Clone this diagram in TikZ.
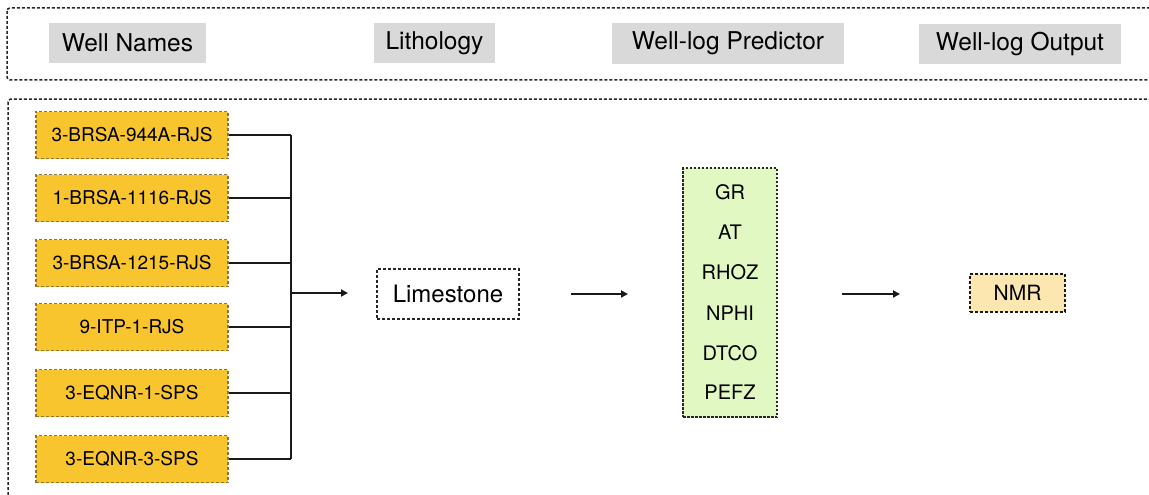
\documentclass[tikz,border=0pt]{standalone}
\usepackage{fontspec}
\setmainfont{TeX Gyre Heros}
\usetikzlibrary{arrows.meta}

\definecolor{hdrgrey}{HTML}{D9D9D9}
\definecolor{wellfill}{HTML}{F8C52F}
\definecolor{welledge}{HTML}{8E7634}
\definecolor{logfill}{HTML}{E2F8C2}
\definecolor{outfill}{HTML}{FCE7B0}

\tikzset{
  fine dash/.style={dash pattern=on 3pt off 2pt},
  panel/.style={draw=black!85, line width=1.5pt, fine dash, rounded corners=3pt},
  header/.style={fill=hdrgrey, inner sep=0pt, font=\fontsize{24.5}{28}\selectfont, text=black},
  wellbox/.style={fill=wellfill, draw=welledge, line width=1.4pt, fine dash,
    minimum width=192pt, minimum height=47pt, inner sep=0pt,
    font=\fontsize{19}{22}\selectfont},
  lithbox/.style={draw=black!85, line width=1.5pt, fine dash, fill=white,
    minimum width=142pt, minimum height=50pt, inner sep=0pt,
    font=\fontsize{24}{28}\selectfont},
  logbox/.style={fill=logfill, draw=black!85, line width=1.5pt, dash pattern=on 2.5pt off 1.5pt,
    minimum width=94pt, minimum height=249pt, inner sep=0pt},
  logname/.style={inner sep=0pt, font=\fontsize{20}{23}\selectfont},
  outbox/.style={fill=outfill, draw=black!90, line width=2pt, dash pattern=on 3pt off 2pt,
    minimum width=95pt, minimum height=38pt, inner sep=0pt,
    font=\fontsize{21}{24}\selectfont},
  link/.style={draw=black!90, line width=2pt},
  flow/.style={link, -{Triangle[length=7pt,width=7pt]}}
}

\begin{document}
\begin{tikzpicture}[x=1pt, y=-1pt]
\useasboundingbox (0,0) rectangle (1149,495);
\fill[white] (0,0) rectangle (1149,495);
\clip (0,0) rectangle (1149,495);

% framing panels (they run past the right and bottom edges)
\draw[panel] (7,8) rectangle (1165,80);
\draw[panel] (8,99) rectangle (1165,515);

% column headers
\node[header, minimum width=157pt, minimum height=40pt] (hwell) at (127.5,43) {Well Names};
\node[header, minimum width=121pt, minimum height=40pt] (hlith) at (434.5,43) {Lithology};
\node[header, minimum width=232pt, minimum height=41pt] (hpred) at (728,43.5) {Well-log Predictor};
\node[header, minimum width=202pt, minimum height=40pt] (hout) at (1020,44) {Well-log Output};

% wells
\node[wellbox] (w1) at (132,135) {3-BRSA-944A-RJS};
\node[wellbox] (w2) at (132,198) {1-BRSA-1116-RJS};
\node[wellbox] (w3) at (132,263) {3-BRSA-1215-RJS};
\node[wellbox] (w4) at (132,327) {9-ITP-1-RJS};
\node[wellbox] (w5) at (132,393) {3-EQNR-1-SPS};
\node[wellbox] (w6) at (132,459) {3-EQNR-3-SPS};

% collecting bus
\coordinate (bus) at (291,0);
\foreach \w in {w1,w2,w3,w4,w5,w6}
  \draw[link] (\w.east) -- (\w.east -| bus);
\draw[link] (w1.east -| bus) -- (w6.east -| bus);

% lithology
\node[lithbox] (lime) at (448,294) {Limestone};
\coordinate (busout) at (291,293);
\coordinate (limein) at (348,293);
\draw[flow] (busout) -- (limein);

% predictor logs
\node[logbox] (logs) at (730,292.5) {};
\node[logname] (gr)   at (730,192) {GR};
\node[logname] (at)   at (730,232) {AT};
\node[logname] (rhoz) at (730,272.5) {RHOZ};
\node[logname] (nphi) at (730,313) {NPHI};
\node[logname] (dtco) at (730,353) {DTCO};
\node[logname] (pefz) at (730,392.5) {PEFZ};

\coordinate (a2s) at (571,294);
\coordinate (a2e) at (628,294);
\draw[flow] (a2s) -- (a2e);

% output log
\node[outbox] (nmr) at (1017.5,293) {NMR};
\coordinate (a3s) at (842,294);
\coordinate (a3e) at (900,294);
\draw[flow] (a3s) -- (a3e);
\end{tikzpicture}
\end{document}
